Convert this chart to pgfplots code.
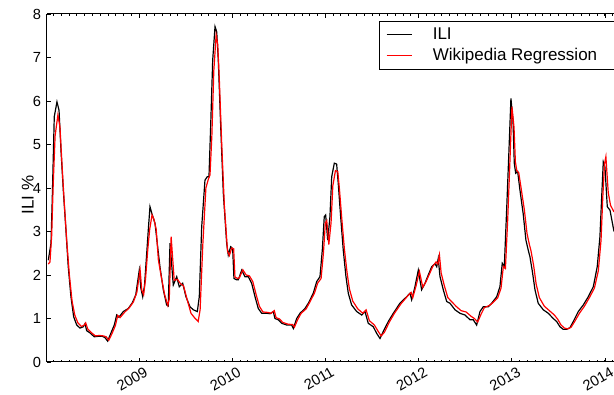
\documentclass[border=0pt]{standalone}
\usepackage{pgfplots}
\usepackage{pgfplotstable}
\pgfplotsset{compat=1.18}
\usepackage{fontspec}
\setmainfont{Liberation Sans}

% weekly ILI % (black)
\pgfplotstableread{
year ili
2008.027 2.34
2008.056 2.73
2008.070 3.80
2008.091 5.64
2008.120 5.98
2008.142 5.79
2008.163 4.87
2008.188 3.95
2008.214 3.11
2008.241 2.19
2008.270 1.50
2008.299 1.04
2008.332 0.85
2008.367 0.78
2008.402 0.81
2008.421 0.88
2008.439 0.72
2008.474 0.67
2008.520 0.58
2008.563 0.59
2008.606 0.59
2008.635 0.56
2008.664 0.48
2008.700 0.67
2008.735 0.85
2008.761 1.08
2008.785 1.03
2008.832 1.16
2008.885 1.23
2008.928 1.36
2008.965 1.54
2009.003 2.11
2009.020 1.70
2009.040 1.50
2009.059 1.75
2009.083 2.50
2009.102 3.10
2009.118 3.57
2009.140 3.40
2009.172 3.19
2009.196 2.73
2009.225 2.19
2009.261 1.66
2009.297 1.31
2009.314 1.29
2009.333 2.73
2009.368 1.77
2009.405 1.96
2009.432 1.73
2009.469 1.81
2009.504 1.50
2009.547 1.27
2009.583 1.20
2009.626 1.16
2009.647 1.50
2009.673 3.11
2009.708 4.18
2009.733 4.26
2009.751 4.26
2009.769 5.41
2009.791 6.94
2009.816 7.71
2009.834 7.59
2009.851 6.94
2009.877 5.41
2009.905 3.88
2009.941 2.73
2009.958 2.46
2009.984 2.65
2010.005 2.61
2010.019 1.92
2010.048 1.89
2010.066 1.89
2010.102 2.11
2010.137 1.96
2010.173 1.96
2010.209 1.81
2010.245 1.50
2010.280 1.23
2010.317 1.12
2010.370 1.12
2010.406 1.11
2010.441 1.16
2010.459 1.00
2010.495 0.97
2010.531 0.89
2010.585 0.85
2010.638 0.85
2010.656 0.77
2010.692 1.00
2010.728 1.12
2010.781 1.23
2010.817 1.35
2010.870 1.58
2010.907 1.85
2010.942 1.96
2010.967 2.57
2010.988 3.34
2011.003 3.38
2011.025 2.80
2011.049 3.34
2011.068 4.26
2011.096 4.57
2011.121 4.55
2011.138 4.11
2011.164 3.34
2011.192 2.57
2011.221 1.96
2011.246 1.58
2011.282 1.31
2011.336 1.16
2011.390 1.08
2011.425 1.16
2011.460 0.89
2011.514 0.81
2011.550 0.66
2011.586 0.54
2011.621 0.70
2011.675 0.93
2011.729 1.12
2011.800 1.35
2011.872 1.50
2011.908 1.58
2011.926 1.43
2011.961 1.73
2011.997 2.11
2012.033 1.66
2012.069 1.81
2012.104 2.00
2012.141 2.19
2012.176 2.26
2012.195 2.19
2012.211 2.38
2012.230 1.96
2012.265 1.66
2012.302 1.39
2012.337 1.35
2012.391 1.20
2012.444 1.12
2012.498 1.08
2012.552 0.97
2012.587 0.97
2012.623 0.85
2012.659 1.16
2012.694 1.27
2012.748 1.27
2012.784 1.35
2012.838 1.50
2012.873 1.73
2012.898 2.27
2012.920 2.19
2012.945 3.49
2012.970 4.87
2012.991 6.06
2013.013 5.56
2013.027 4.57
2013.042 4.34
2013.063 4.38
2013.088 3.95
2013.123 3.40
2013.152 2.80
2013.177 2.57
2013.195 2.42
2013.224 2.04
2013.249 1.66
2013.284 1.35
2013.338 1.20
2013.392 1.12
2013.445 1.00
2013.482 0.93
2013.517 0.81
2013.553 0.75
2013.589 0.75
2013.625 0.79
2013.660 0.93
2013.714 1.16
2013.767 1.31
2013.821 1.50
2013.875 1.73
2013.917 2.19
2013.946 2.88
2013.965 3.80
2013.982 4.60
2014.000 4.48
2014.025 3.57
2014.054 3.49
2014.097 3.00
}\ilidata

% Wikipedia regression estimate (red)
\pgfplotstableread{
year wiki
2008.027 2.25
2008.045 2.30
2008.063 2.90
2008.080 4.10
2008.100 5.20
2008.130 5.68
2008.152 5.40
2008.175 4.50
2008.200 3.60
2008.226 2.75
2008.253 2.00
2008.282 1.40
2008.311 1.08
2008.344 0.90
2008.380 0.82
2008.410 0.84
2008.428 0.90
2008.450 0.76
2008.486 0.68
2008.532 0.60
2008.575 0.61
2008.618 0.60
2008.648 0.58
2008.676 0.50
2008.712 0.66
2008.747 0.84
2008.772 1.07
2008.797 1.02
2008.844 1.14
2008.897 1.25
2008.940 1.38
2008.977 1.60
2009.012 2.12
2009.030 1.65
2009.050 1.55
2009.070 1.90
2009.095 2.60
2009.115 3.05
2009.140 3.38
2009.160 3.28
2009.185 3.05
2009.208 2.35
2009.240 1.95
2009.275 1.55
2009.310 1.30
2009.325 1.45
2009.345 2.88
2009.378 1.88
2009.414 1.90
2009.445 1.80
2009.478 1.75
2009.515 1.45
2009.558 1.12
2009.595 1.02
2009.635 0.93
2009.656 1.20
2009.685 2.70
2009.718 4.00
2009.744 4.20
2009.762 4.30
2009.782 5.20
2009.803 6.70
2009.828 7.52
2009.845 7.30
2009.862 6.50
2009.888 5.00
2009.916 3.60
2009.950 2.55
2009.970 2.45
2009.995 2.62
2010.016 2.60
2010.030 1.95
2010.060 1.92
2010.078 1.94
2010.114 2.12
2010.150 2.00
2010.185 1.98
2010.221 1.85
2010.257 1.55
2010.292 1.28
2010.330 1.15
2010.382 1.14
2010.418 1.12
2010.452 1.18
2010.471 1.02
2010.507 0.99
2010.543 0.91
2010.597 0.87
2010.650 0.86
2010.668 0.80
2010.704 0.98
2010.740 1.12
2010.793 1.22
2010.829 1.36
2010.882 1.58
2010.919 1.82
2010.954 1.92
2010.979 2.50
2011.000 3.20
2011.015 3.25
2011.037 2.70
2011.061 3.20
2011.080 4.05
2011.108 4.40
2011.133 4.38
2011.150 4.00
2011.176 3.30
2011.204 2.60
2011.233 2.05
2011.258 1.68
2011.294 1.40
2011.348 1.22
2011.402 1.12
2011.437 1.20
2011.472 0.95
2011.526 0.85
2011.562 0.72
2011.598 0.60
2011.633 0.68
2011.687 0.92
2011.741 1.12
2011.812 1.34
2011.884 1.52
2011.920 1.60
2011.938 1.48
2011.973 1.75
2012.009 2.08
2012.045 1.72
2012.081 1.85
2012.116 2.02
2012.153 2.20
2012.188 2.30
2012.207 2.25
2012.224 2.46
2012.242 2.05
2012.277 1.75
2012.314 1.48
2012.349 1.40
2012.403 1.28
2012.456 1.18
2012.510 1.15
2012.564 1.05
2012.599 1.00
2012.635 0.92
2012.671 1.10
2012.706 1.25
2012.760 1.30
2012.796 1.36
2012.850 1.48
2012.885 1.70
2012.910 2.20
2012.932 2.15
2012.957 3.30
2012.980 4.60
2013.002 5.87
2013.024 5.40
2013.039 4.60
2013.054 4.40
2013.075 4.35
2013.100 4.00
2013.135 3.50
2013.164 2.95
2013.189 2.70
2013.207 2.55
2013.236 2.20
2013.261 1.80
2013.296 1.48
2013.350 1.28
2013.404 1.18
2013.457 1.08
2013.494 0.98
2013.529 0.85
2013.565 0.78
2013.601 0.76
2013.637 0.80
2013.672 0.92
2013.726 1.12
2013.779 1.28
2013.833 1.48
2013.887 1.70
2013.929 2.10
2013.958 2.80
2013.977 3.80
2013.995 4.55
2014.010 4.72
2014.035 3.90
2014.060 3.60
2014.097 3.45
}\wikidata

\begin{document}
\begin{tikzpicture}
\useasboundingbox (-35.25pt,-24.75pt) rectangle (425.25pt,271.5pt);
\clip (-35.25pt,-24.75pt) rectangle (425.25pt,271.5pt);
\begin{axis}[
    at={(0,0)}, anchor=south west,
    scale only axis,
    width=425.25pt, height=261pt,
    xmin=2008.013, xmax=2014.097,
    ymin=0, ymax=8,
    axis x line*=box, axis y line*=left,
    axis line style={black, line width=0.75pt},
    xtick={2009,2010,2011,2012,2013,2014},
    xticklabels={2009,2010,2011,2012,2013,2014},
    minor xtick={2008.0833,2008.1667,...,2014.1},
    ytick={0,1,...,8},
    tick align=inside,
    major tick length=3pt, minor tick length=1.5pt,
    tick style={black, line width=0.5pt},
    /pgf/number format/assume math mode=true,
    tick label style={font=\fontsize{11}{12}\selectfont},
    x tick label style={rotate=30, anchor=north east, xshift=5pt, yshift=-1pt},
    y tick label style={xshift=-1pt},
    legend style={at={(rel axis cs:0.5855,0.980)}, anchor=north west,
        font=\fontsize{12.75}{15}\selectfont, draw=black, line width=0.75pt,
        inner xsep=5pt, inner ysep=3pt, row sep=1pt,
        /tikz/every odd column/.append style={column sep=13.5pt}},
    legend image code/.code={\draw[#1, line width=0.75pt] (0pt,0pt) -- (18.75pt,0pt);},
    legend cell align=left,
    clip mode=individual,
]
\addplot[black, line width=0.9pt] table[x=year, y=ili] {\ilidata};
\addlegendentry{ILI}
\addplot[red, line width=0.9pt] table[x=year, y=wiki] {\wikidata};
\addlegendentry{Wikipedia Regression\hspace*{20pt}}
\node[rotate=90, anchor=center, font=\fontsize{12.75}{14}\selectfont]
    at (axis description cs:-0.034,0.48) {ILI \%};
\end{axis}
\end{tikzpicture}
\end{document}
